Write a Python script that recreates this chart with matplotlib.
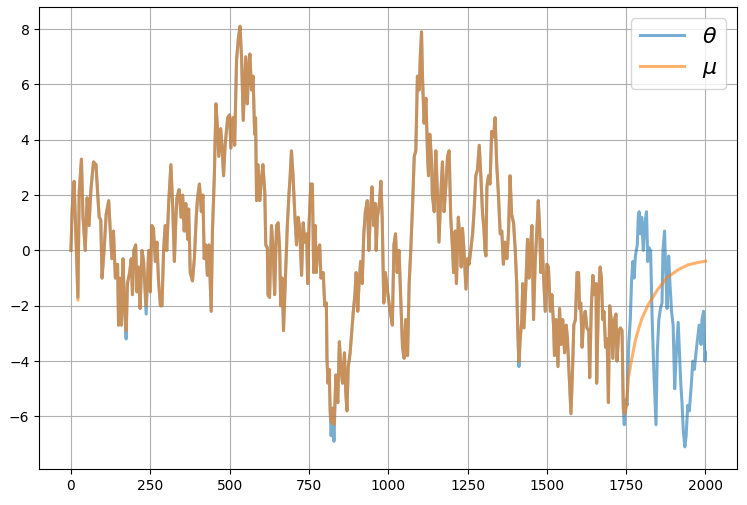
import numpy as np
import matplotlib
matplotlib.use("Agg")
import matplotlib.pyplot as plt

# theta path, vertices (step, value)
theta_x = [0, 4, 10, 22, 26, 33, 38, 45, 51, 57, 63, 71, 79, 84, 89, 94, 98, 105, 111, 119,
           124, 129, 134, 140, 147, 150, 155, 159, 164, 169, 174, 178, 185, 190, 194, 198, 204, 208, 213, 218,
           224, 229, 237, 245, 250, 255, 260, 266, 271, 276, 282, 287, 292, 297, 302, 308, 315, 321, 326, 331,
           334, 341, 347, 352, 357, 362, 368, 371, 376, 383, 389, 395, 399, 405, 411, 416, 420, 425, 430, 435,
           442, 446, 452, 457, 462, 466, 472, 477, 481, 486, 494, 500, 504, 511, 516, 522, 528, 533, 538, 543,
           551, 556, 560, 564, 569, 574, 579, 582, 585, 590, 595, 600, 605, 611, 614, 619, 621, 626, 632, 637,
           642, 648, 653, 658, 661, 666, 670, 676, 682, 687, 691, 695, 700, 706, 711, 716, 721, 727, 732, 737,
           743, 746, 750, 756, 761, 765, 770, 773, 778, 784, 788, 795, 800, 805, 807, 810, 814, 817, 820, 825,
           829, 835, 841, 846, 851, 856, 862, 866, 870, 874, 880, 886, 890, 895, 899, 904, 908, 913, 918, 923,
           928, 934, 939, 944, 949, 954, 959, 962, 966, 972, 977, 981, 986, 991, 998, 1005, 1013, 1018, 1023, 1028,
           1034, 1039, 1045, 1050, 1055, 1061, 1066, 1071, 1077, 1082, 1087, 1092, 1098, 1101, 1105, 1108, 1113, 1119, 1124, 1127,
           1131, 1137, 1139, 1145, 1150, 1155, 1160, 1166, 1171, 1176, 1182, 1187, 1192, 1197, 1203, 1206, 1211, 1215, 1221, 1226,
           1230, 1234, 1239, 1245, 1250, 1255, 1260, 1266, 1271, 1276, 1281, 1287, 1292, 1297, 1302, 1305, 1308, 1311, 1316, 1321,
           1326, 1332, 1337, 1342, 1347, 1353, 1358, 1363, 1368, 1374, 1379, 1384, 1389, 1395, 1400, 1405, 1408, 1412, 1416, 1421,
           1424, 1428, 1434, 1439, 1444, 1449, 1453, 1458, 1463, 1468, 1473, 1477, 1481, 1485, 1489, 1495, 1500, 1505, 1511, 1516,
           1521, 1524, 1529, 1535, 1540, 1545, 1550, 1556, 1561, 1565, 1569, 1572, 1576, 1581, 1585, 1590, 1595, 1600, 1603, 1607,
           1611, 1616, 1621, 1626, 1632, 1635, 1640, 1645, 1650, 1655, 1657, 1663, 1668, 1672, 1676, 1680, 1685, 1690, 1694, 1698,
           1703, 1708, 1713, 1718, 1721, 1727, 1732, 1737, 1741, 1744, 1748, 1753, 1758, 1763, 1767, 1771, 1775, 1779, 1785, 1788,
           1791, 1795, 1799, 1804, 1808, 1814, 1818, 1822, 1827, 1832, 1837, 1844, 1848, 1853, 1858, 1863, 1866, 1871, 1874, 1879,
           1884, 1888, 1893, 1898, 1903, 1908, 1914, 1918, 1922, 1926, 1930, 1935, 1939, 1944, 1949, 1955, 1960, 1965, 1970, 1975,
           1980, 1986, 1989, 1994, 1998, 2000]
theta_y = [0.0, 1.5, 2.5, -1.7, 2.1, 3.3, 1.2, 0.0, 1.9, 0.9, 2.2, 3.2, 3.1, 2.1, 1.2, 1.1, -1.0, 0.1, 1.3, 1.8,
           0.7, -0.3, 0.7, -1.0, -0.5, -2.7, -1.0, -2.7, -0.3, -2.1, -3.2, -1.2, -0.8, -0.3, -1.6, 0.0, 0.2, -1.5, -0.6, -2.1,
           0.0, -0.4, -2.3, 0.0, -1.5, 0.9, 0.8, -0.4, 0.3, -1.1, -2.0, -2.0, 0.0, 0.9, 0.0, 1.7, 3.1, 1.5, -0.4, 1.2,
           1.9, 2.2, 1.2, 2.0, 0.7, 1.7, 0.4, 1.5, -0.8, -1.1, -0.3, 1.2, 1.9, 2.4, 1.4, 2.0, -0.3, 0.2, -0.9, 0.2,
           -2.2, 0.7, 2.7, 5.3, 4.4, 3.4, 4.4, 3.6, 2.7, 3.8, 4.8, 4.9, 3.7, 4.8, 3.8, 6.9, 7.7, 8.1, 6.9, 4.7,
           7.0, 5.3, 6.6, 7.1, 5.8, 6.3, 4.2, 4.8, 1.8, 3.1, 1.8, 2.5, 3.1, 2.1, 0.2, 0.1, -1.6, -1.7, 0.9, 0.1,
           -1.6, 0.9, 1.0, 0.0, -2.0, -1.0, -2.9, -1.0, 0.9, 2.0, 2.7, 3.6, 2.7, 1.2, 0.2, 1.2, 0.8, -0.9, 1.0, 0.3,
           0.6, -1.2, 0.8, 2.4, 2.4, -0.8, 0.9, -0.8, 0.0, 0.2, -1.0, -0.8, -2.0, -1.9, -3.9, -4.8, -4.3, -5.8, -6.7, -5.7,
           -6.9, -4.5, -5.5, -3.3, -4.3, -4.8, -3.7, -5.1, -5.8, -4.2, -3.7, -2.8, -2.2, -1.6, -0.8, -2.2, -1.2, -0.4, -1.2, 0.6,
           1.4, 1.8, 0.0, 1.4, 2.3, 0.9, 1.7, 0.0, 1.2, 1.7, 2.5, 1.2, -1.9, -0.8, -1.5, -2.1, -2.7, 0.2, 0.6, -0.8,
           0.0, -1.6, -3.5, -3.9, -2.5, -3.8, -1.2, 0.0, 1.7, 3.4, 3.6, 6.3, 5.8, 7.0, 7.9, 6.3, 4.6, 5.5, 3.4, 2.7,
           4.2, 3.2, 2.0, 1.4, 3.6, 2.1, 0.3, 2.1, 3.2, 1.4, 2.4, 3.4, 3.6, 1.2, 0.0, -0.8, 0.7, -1.2, 1.2, 0.4,
           -0.6, 0.8, 0.0, -1.4, -0.3, -0.5, 0.0, 0.6, 1.5, 2.7, 2.9, 3.8, 2.7, 1.4, 0.7, 0.0, -0.2, 2.3, 2.7, 2.4,
           4.3, 4.1, 4.8, 3.1, 2.1, 0.6, 0.7, -0.5, 0.3, -0.3, 0.6, 2.7, 1.3, 1.0, 0.1, -1.2, -2.8, -4.2, -3.2, -2.5,
           -1.2, -2.8, -1.2, 0.4, -1.0, 0.2, 0.9, -2.5, -0.5, 0.6, 1.8, 0.9, -0.8, 0.4, -0.8, -2.2, -0.5, -0.6, -2.2, -1.6,
           -2.7, -3.8, -2.5, -4.2, -2.1, -3.4, -2.5, -3.7, -2.7, -3.2, -4.2, -4.9, -5.9, -4.3, -2.7, -2.5, -0.8, -0.8, -2.1, -1.9,
           -3.5, -2.5, -2.2, -2.8, -2.9, -4.6, -2.1, -0.9, -1.6, -1.2, -4.8, -1.6, -0.6, -1.0, -2.5, -2.2, -3.5, -3.2, -5.5, -2.0,
           -2.5, -3.9, -2.5, -2.3, -4.0, -2.9, -2.8, -2.9, -5.7, -6.3, -5.4, -5.6, -3.4, -2.5, -1.1, -0.4, -1.0, -0.2, 0.2, 1.2,
           1.4, 0.6, 1.2, 0.0, 0.9, 1.4, -0.4, 0.1, 0.0, -2.5, -4.3, -6.3, -3.7, -2.5, -2.1, -1.9, 0.0, 0.7, -0.5, -2.1,
           -0.2, -1.2, -2.2, -2.7, -5.0, -3.7, -2.6, -3.7, -4.8, -5.5, -6.5, -7.1, -6.7, -5.6, -5.8, -4.9, -4.0, -4.3, -3.7, -3.2,
           -2.7, -3.4, -2.5, -2.2, -4.0, -3.7]

# mu follows theta up to ~1745, with a few spots where it sits a bit higher
mu_tweaks = {22: -1.8, 174: -2.9, 237: -2.0, 820: -6.2, 829: -6.3, 1412: -4.0, 1744: -5.9}
mu_tail_x = [1750, 1757, 1768, 1778, 1790, 1800, 1820, 1850, 1880, 1915, 1945, 1975, 2000]
mu_tail_y = [-5.7, -4.6, -3.9, -3.3, -2.8, -2.45, -1.95, -1.4, -0.97, -0.69, -0.52, -0.44, -0.39]

mu_x = [x for x in theta_x if x <= 1744] + mu_tail_x
mu_y = [mu_tweaks.get(x, y) for x, y in zip(theta_x, theta_y) if x <= 1744] + mu_tail_y

fig = plt.figure(figsize=(7.47, 5.05), dpi=100)
ax = fig.add_axes([0.0525, 0.0713, 0.9344, 0.9149])
ax.plot(theta_x, theta_y, lw=2.2, alpha=0.6, label=r'$\theta$')
ax.plot(mu_x, mu_y, lw=2.2, alpha=0.6, label=r'$\mu$')
ax.set_xlim(-100, 2100)
ax.set_ylim(-7.9, 8.8)
ax.grid(True)
ax.legend(loc='upper right', fontsize=16)
plt.savefig('out.png', dpi=100)
